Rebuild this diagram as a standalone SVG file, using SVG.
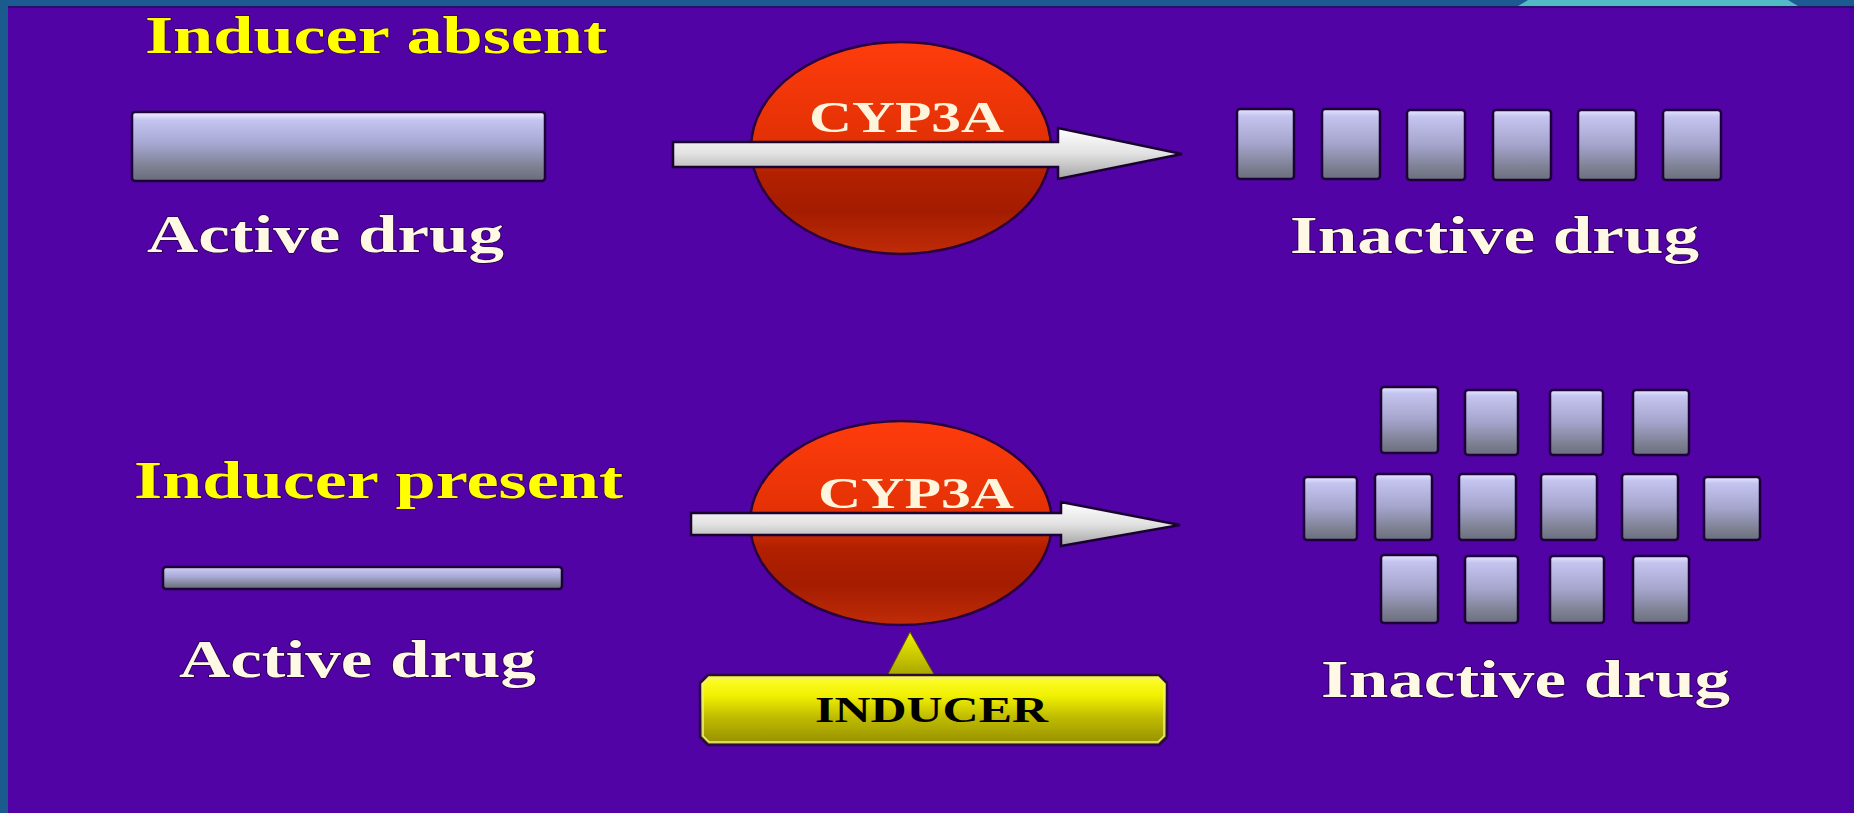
<svg xmlns="http://www.w3.org/2000/svg" width="1854" height="813" viewBox="0 0 1854 813">
<defs>
<linearGradient id="gBar" x1="0" y1="0" x2="0" y2="1">
<stop offset="0" stop-color="#f4f4ff"/>
<stop offset="0.12" stop-color="#c4c4f0"/>
<stop offset="0.45" stop-color="#a8a8d4"/>
<stop offset="0.8" stop-color="#7c8090"/>
<stop offset="1" stop-color="#686c7c"/>
</linearGradient>
<linearGradient id="gBlk" x1="0" y1="0" x2="0" y2="1">
<stop offset="0" stop-color="#e8e8ff"/>
<stop offset="0.1" stop-color="#c4c4f0"/>
<stop offset="0.5" stop-color="#a4a4cc"/>
<stop offset="0.85" stop-color="#7a7e8e"/>
<stop offset="1" stop-color="#6a6e7e"/>
</linearGradient>
<linearGradient id="gEnz" x1="0" y1="0" x2="0" y2="1">
<stop offset="0" stop-color="#ff3c0c"/>
<stop offset="0.5" stop-color="#e03004"/>
<stop offset="0.62" stop-color="#b22000"/>
<stop offset="0.8" stop-color="#a41c00"/>
<stop offset="1" stop-color="#c02c08"/>
</linearGradient>
<linearGradient id="gArrow" x1="0" y1="0" x2="0" y2="1">
<stop offset="0" stop-color="#ffffff"/>
<stop offset="0.5" stop-color="#e2e2e2"/>
<stop offset="1" stop-color="#a4a4a4"/>
</linearGradient>
<linearGradient id="gInd" x1="0" y1="0" x2="0" y2="1">
<stop offset="0" stop-color="#ffff30"/>
<stop offset="0.3" stop-color="#f0f000"/>
<stop offset="0.6" stop-color="#c0bc00"/>
<stop offset="1" stop-color="#948e00"/>
</linearGradient>
<linearGradient id="gTri" x1="0" y1="0" x2="0" y2="1">
<stop offset="0" stop-color="#f0f000"/>
<stop offset="1" stop-color="#a8a400"/>
</linearGradient>
</defs>
<style>
.title{font-family:"Liberation Serif","Times New Roman",serif;font-weight:bold;font-size:53px;fill:#ffff00;stroke:#3a0060;stroke-width:1.5;paint-order:stroke}
.label{font-family:"Liberation Serif","Times New Roman",serif;font-weight:bold;font-size:53px;fill:#fff8e4;stroke:#2a0050;stroke-width:1.5;paint-order:stroke}
.enz{font-family:"Liberation Serif","Times New Roman",serif;font-weight:bold;font-size:45px;fill:#fff4dc}
.ind{font-family:"Liberation Serif","Times New Roman",serif;font-weight:bold;font-size:35px;fill:#000000}
.bar{fill:url(#gBar);stroke:#1c0038;stroke-width:2.5}
.blk{fill:url(#gBlk);stroke:#1c0038;stroke-width:2.5}
.ell{fill:url(#gEnz);stroke:#2a0040;stroke-width:2.5}
.arr{fill:url(#gArrow);stroke:#180030;stroke-width:2.5;stroke-linejoin:miter}
</style>
<rect x="0" y="0" width="1854" height="813" fill="#5203a6"/>
<rect x="0" y="0" width="1854" height="6" fill="#1b5b92"/>
<rect x="0" y="6" width="1854" height="2" fill="#2a0c6a"/>
<polygon points="1528,0 1788,0 1798,6 1518,6" fill="#52b9c6"/>
<rect x="0" y="0" width="8" height="813" fill="#1a5a8c"/>
<rect x="1849" y="8" width="5" height="805" fill="#4a02a0"/>

<g id="title-absent"><text class="title" x="145" y="53" textLength="462" lengthAdjust="spacingAndGlyphs">Inducer absent</text></g>
<g id="active-drug-top">
<rect class="bar" x="132" y="112" width="413" height="69" rx="3"/>
<text class="label" x="147" y="252" textLength="357" lengthAdjust="spacingAndGlyphs">Active drug</text>
</g>
<g id="cyp3a-top">
<ellipse class="ell" cx="901" cy="148" rx="150" ry="106"/>
<text class="enz" x="809" y="132" textLength="195" lengthAdjust="spacingAndGlyphs">CYP3A</text>
</g>
<g id="inactive-drug-top">
<rect class="blk" x="1237" y="109" width="57" height="70" rx="3"/>
<rect class="blk" x="1322" y="109" width="58" height="70" rx="3"/>
<rect class="blk" x="1407" y="110" width="58" height="70" rx="3"/>
<rect class="blk" x="1493" y="110" width="58" height="70" rx="3"/>
<rect class="blk" x="1578" y="110" width="58" height="70" rx="3"/>
<rect class="blk" x="1663" y="110" width="58" height="70" rx="3"/>
<text class="label" x="1290" y="253" textLength="409" lengthAdjust="spacingAndGlyphs">Inactive drug</text>
</g>

<g id="title-present"><text class="title" x="134" y="498" textLength="489" lengthAdjust="spacingAndGlyphs">Inducer present</text></g>
<g id="active-drug-bottom">
<rect class="bar" x="163" y="567" width="399" height="22" rx="3"/>
<text class="label" x="179" y="677" textLength="357" lengthAdjust="spacingAndGlyphs">Active drug</text>
</g>
<g id="cyp3a-bottom">
<ellipse class="ell" cx="901" cy="523" rx="151" ry="102"/>
<text class="enz" x="818" y="508" textLength="196" lengthAdjust="spacingAndGlyphs">CYP3A</text>
</g>
<g id="inducer">
<polygon points="910,632 887,676 935,676" fill="url(#gTri)" stroke="#5a5000" stroke-width="1"/>
<path d="M708,675 H1159 L1167,683 V737 L1159,745 H708 L700,737 V683 Z" fill="url(#gInd)" stroke="#2a0a40" stroke-width="2.5"/>
<path d="M709,678 H1158 L1164,684 V736 L1158,742 H709 L703,736 V684 Z" fill="none" stroke="#f0f080" stroke-width="1.5"/>
<text class="ind" x="815" y="722" textLength="233" lengthAdjust="spacingAndGlyphs">INDUCER</text>
</g>
<g id="inactive-drug-bottom">
<rect class="blk" x="1381" y="387" width="57" height="66" rx="3"/>
<rect class="blk" x="1465" y="390" width="53" height="65" rx="3"/>
<rect class="blk" x="1550" y="390" width="53" height="65" rx="3"/>
<rect class="blk" x="1633" y="390" width="56" height="65" rx="3"/>
<rect class="blk" x="1304" y="477" width="53" height="63" rx="3"/>
<rect class="blk" x="1375" y="474" width="57" height="66" rx="3"/>
<rect class="blk" x="1459" y="474" width="57" height="66" rx="3"/>
<rect class="blk" x="1541" y="474" width="56" height="66" rx="3"/>
<rect class="blk" x="1622" y="474" width="56" height="66" rx="3"/>
<rect class="blk" x="1704" y="477" width="56" height="63" rx="3"/>
<rect class="blk" x="1381" y="555" width="57" height="68" rx="3"/>
<rect class="blk" x="1465" y="556" width="53" height="67" rx="3"/>
<rect class="blk" x="1550" y="556" width="54" height="67" rx="3"/>
<rect class="blk" x="1633" y="556" width="56" height="67" rx="3"/>
<text class="label" x="1321" y="697" textLength="409" lengthAdjust="spacingAndGlyphs">Inactive drug</text>
</g>

<g id="connectors">
<path class="arr" d="M673,142 H1058 V128 L1182,154 L1058,179 V167 H673 Z"/>
<path class="arr" d="M691,513 H1061 V502 L1180,525 L1061,546 V535 H691 Z"/>
</g>
</svg>
